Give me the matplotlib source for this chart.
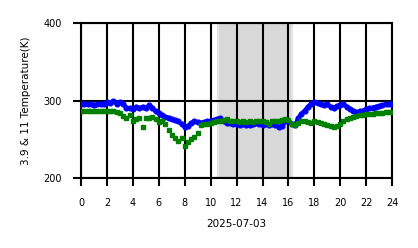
import matplotlib
matplotlib.use("Agg")
import matplotlib.pyplot as plt
import numpy as np

hours = [i * 0.25 for i in range(97)]

ir39 = [296, 296, 295, 296, 294, 295, 296, 295, 298, 297, 299, 296, 298, 295, 291, 290,
        289, 292, 290, 292, 290, 294, 291, 286, 284, 281, 279, 278, 276, 275, 273, 270,
        266, 267, 271, 273, 272, 271, 272, 273, 274, 275, 276, 277, 273, 271, 271, 270,
        270, 269, 270, 269, 269, 270, 271, 270, 269, 270, 268, 270, 268, 266, 267, 273,
        274, 270, 268, 277, 283, 287, 292, 296, 298, 297, 295, 294, 295, 292, 291, 293,
        294, 296, 292, 289, 287, 285, 286, 287, 289, 290, 291, 292, 293, 294, 295, 296, 296]

ir11 = [287, 287, 286, 287, 286, 286, 287, 286, 286, 287, 287, 285, 284, 280, 277, 281,
        273, 276, 277, 266, 278, 277, 279, 276, 272, 274, 270, 262, 255, 252, 248, 252,
        242, 246, 250, 253, 258, 268, 270, 270, 271, 272, 273, 274, 275, 276, 274, 273,
        274, 272, 273, 272, 273, 272, 273, 274, 273, 272, 270, 273, 274, 273, 275, 276,
        275, 270, 269, 271, 274, 273, 272, 271, 273, 272, 271, 270, 268, 267, 266, 267,
        270, 273, 276, 277, 279, 280, 281, 282, 283, 283, 283, 284, 284, 284, 285, 285, 285]

xticks = list(range(0, 25, 2))
yticks = [200, 300, 400]
span = (10.55, 16.25)

fig = plt.figure(figsize=(4.18, 2.48), dpi=100)
ax = fig.add_axes([0.194, 0.282, 0.744, 0.625])

ax.axvspan(span[0], span[1], facecolor='#d8d8d8', edgecolor='#e4e4e4', linewidth=1.5, zorder=0)
ax.plot(hours, ir39, linestyle='-', linewidth=3.0, marker='o', markersize=3.4, color='blue', zorder=3)
ax.plot(hours, ir11, linestyle='none', marker='s', markersize=2.4, color='green', zorder=4)

ax.set_xlim(0, 24)
ax.set_ylim(200, 400)
ax.set_xticks(xticks)
ax.set_xticklabels([str(t) for t in xticks])
ax.set_yticks(yticks)
ax.grid(True, color='black', linewidth=1.5, zorder=1)
ax.set_axisbelow(True)
for s in ax.spines.values():
    s.set_linewidth(1.5)
    s.set_color('black')
ax.tick_params(axis='both', labelsize=7, length=6, width=1.5, pad=8)
ax.set_xlabel('2025-07-03', fontsize=7.5, labelpad=8)
ax.set_ylabel('3.9 & 11 Temperature(K)', fontsize=7.5, labelpad=9)

fig.savefig('out.png', dpi=100)
